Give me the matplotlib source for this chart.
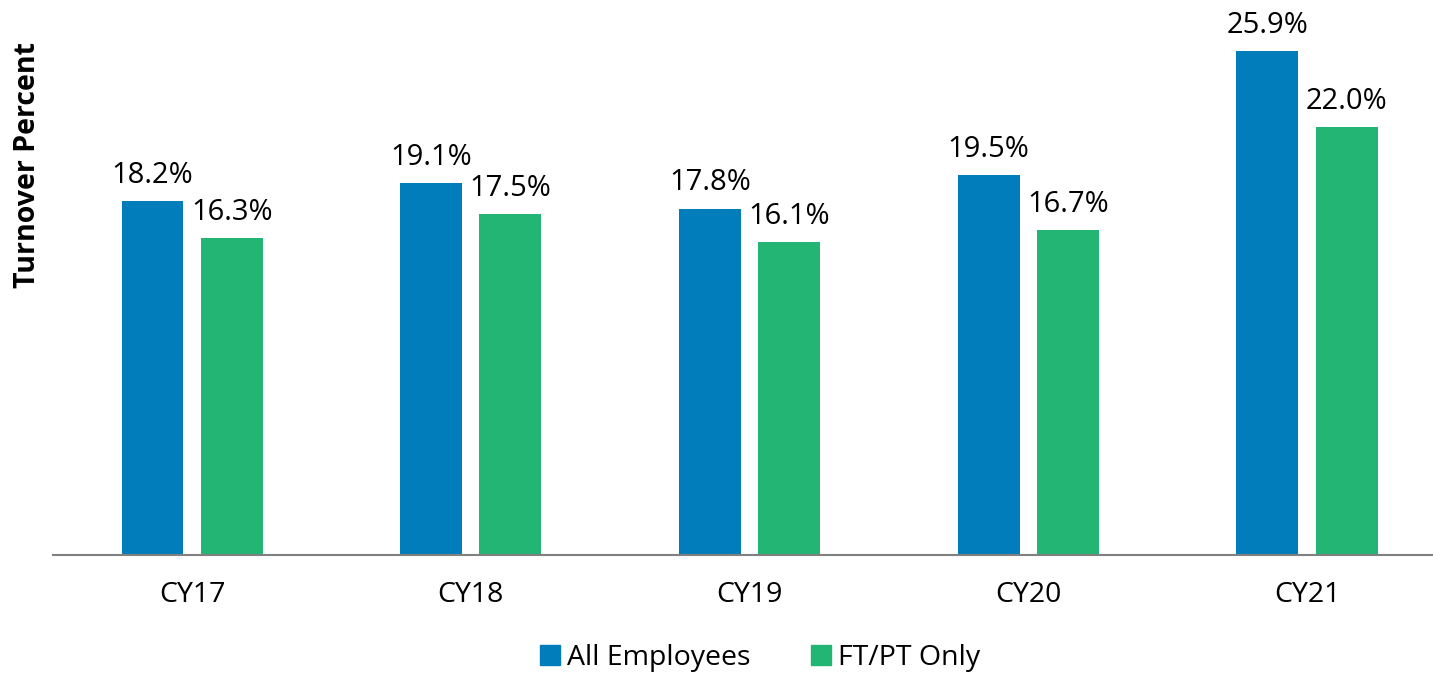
import matplotlib
matplotlib.use("Agg")
import numpy as np
import matplotlib.pyplot as plt
from matplotlib.patches import Patch

# data
years = ['CY17', 'CY18', 'CY19', 'CY20', 'CY21']
all_employees = [18.2, 19.1, 17.8, 19.5, 25.9]
ft_pt_only = [16.3, 17.5, 16.1, 16.7, 22.0]
series_names = ['All Employees', 'FT/PT Only']

blue = '#007DBA'
green = '#22B573'
font = 'Open Sans'

fig = plt.figure(figsize=(14.33, 6.74), dpi=100)
ax = fig.add_axes([53 / 1433, 1 - 555 / 674, 1 - 53 / 1433, 545 / 674])

x = np.arange(len(years))
w = 0.222
off = 0.142
b1 = ax.bar(x - off, all_employees, w, color=blue)
b2 = ax.bar(x + off, ft_pt_only, w, color=green)

for bars, vals in [(b1, all_employees), (b2, ft_pt_only)]:
    for rect, v in zip(bars, vals):
        ax.annotate('%.1f%%' % v, (rect.get_x() + rect.get_width() / 2, v),
                    xytext=(0, 13), textcoords='offset points',
                    ha='center', va='baseline', fontsize=21, family=font, color='black')

ax.set_xlim(-0.499, 4.452)
ax.set_ylim(0, 28)
ax.set_xticks(x)
ax.set_xticklabels(years, fontsize=20.5, family=font)
ax.tick_params(axis='x', length=0, pad=19)
ax.set_yticks([])
for s in ['top', 'right', 'left']:
    ax.spines[s].set_visible(False)
ax.spines['bottom'].set_color('#808080')
ax.spines['bottom'].set_linewidth(1.5)

fig.text(28 / 1433, 1 - 165 / 674, 'Turnover Percent', rotation=90, ha='center', va='center',
         fontsize=20.5, fontweight='bold', family=font)

handles = [Patch(color=blue), Patch(color=green)]
fig.legend(handles, series_names, loc='center', bbox_to_anchor=(760 / 1433, 1 - 658 / 674),
           ncol=2, frameon=False, prop={'family': font, 'size': 20.5},
           handlelength=0.7, handleheight=0.7, handletextpad=0.25, columnspacing=2.1)

fig.savefig('out.png', dpi=100)
